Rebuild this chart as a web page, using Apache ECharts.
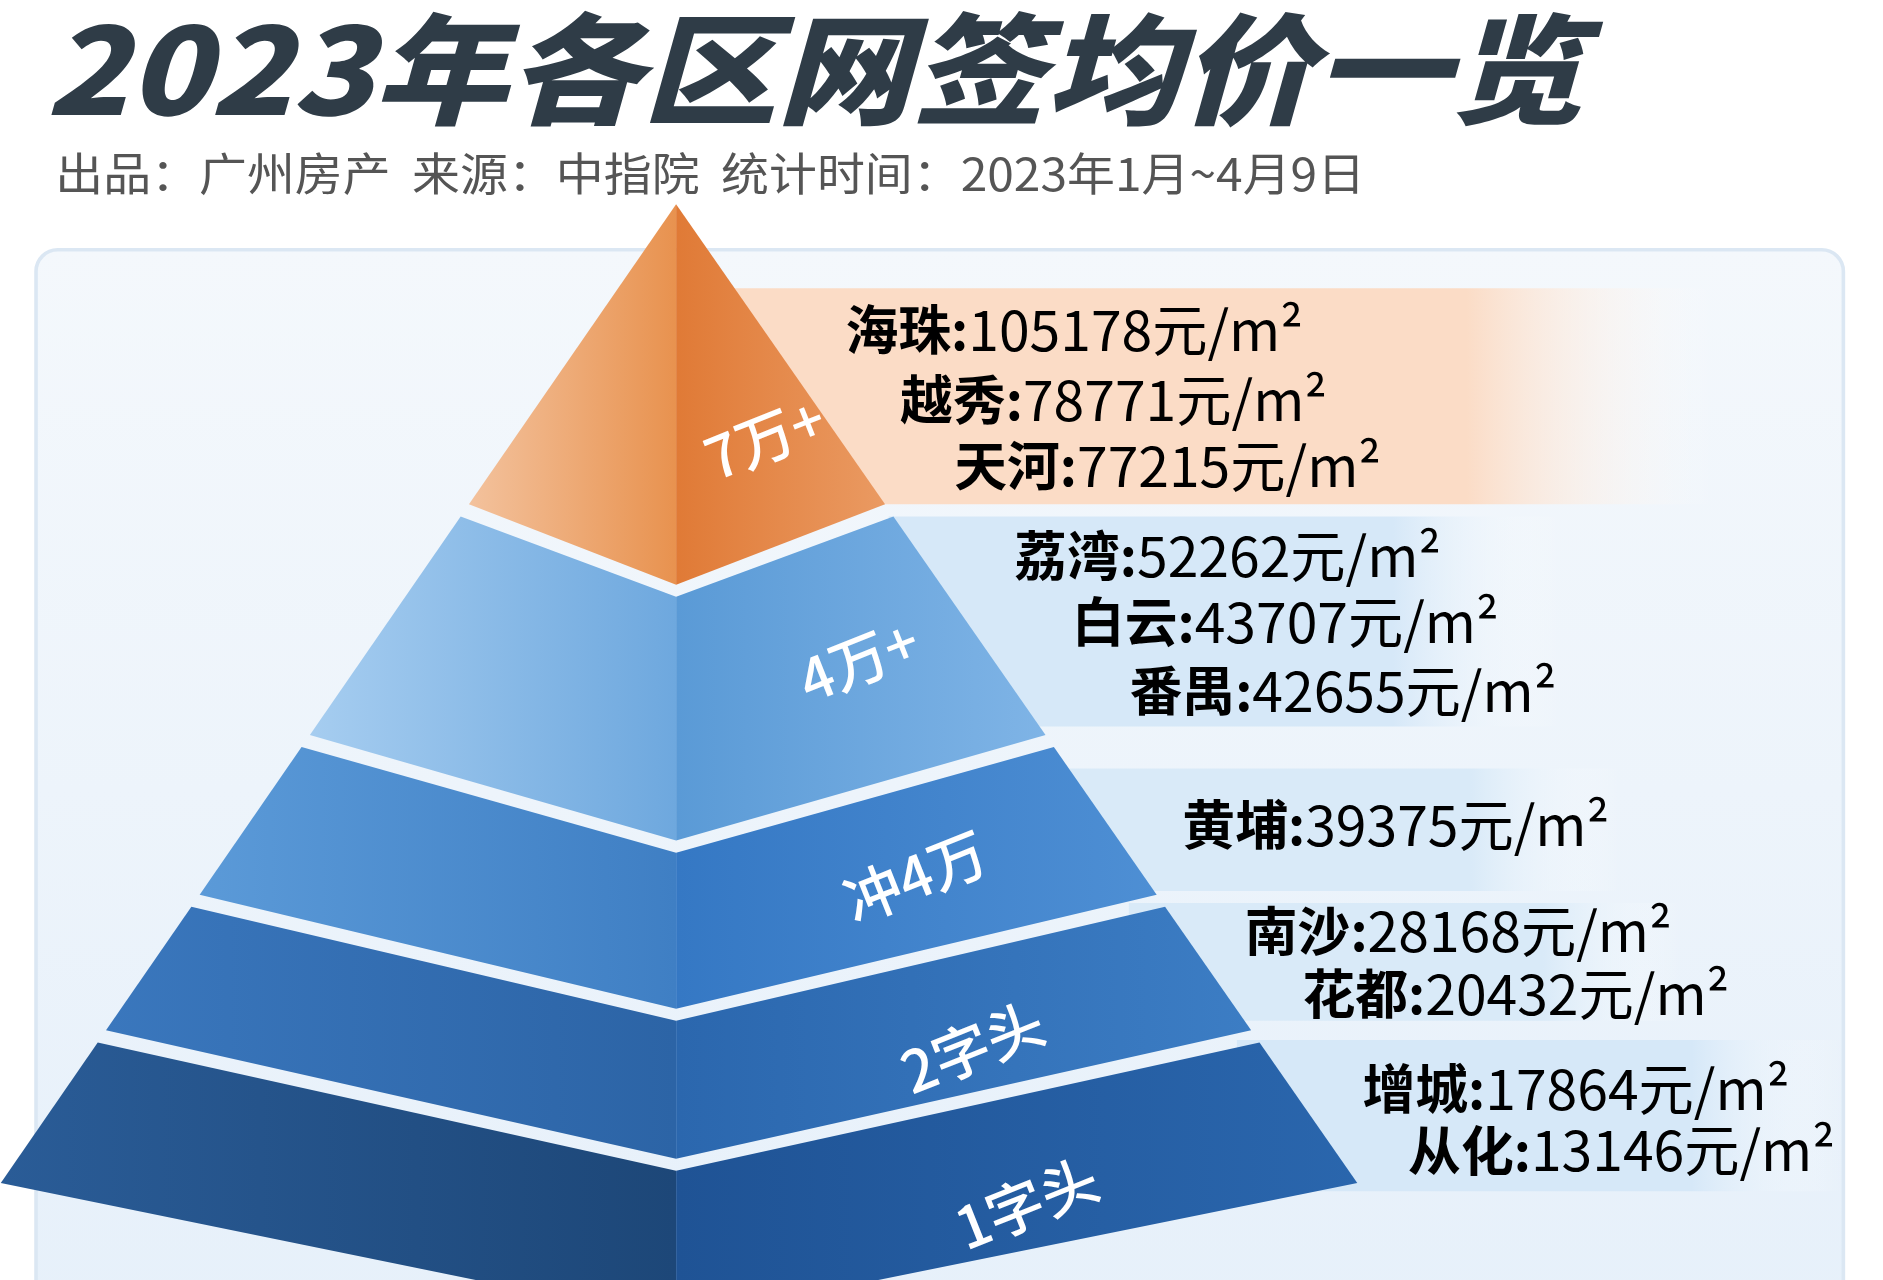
<!DOCTYPE html><html><head><meta charset="utf-8">
<script src="https://cdn.jsdelivr.net/npm/echarts@6/dist/echarts.min.js"></script>
<style>html,body{margin:0;padding:0;background:#fff}#c{width:1883px;height:1280px}</style></head><body><div id="c"></div>
<script>
const title = '2023年各区网签均价一览';
const subtitle = '出品：广州房产  来源：中指院  统计时间：2023年1月~4月9日';
const tierNames = ['7万+','4万+','冲4万','2字头','1字头'];
const districts = ['海珠','越秀','天河','荔湾','白云','番禺','黄埔','南沙','花都','增城','从化'];
const prices = [105178,78771,77215,52262,43707,42655,39375,28168,20432,17864,13146];
const tierOf = [0,0,0,1,1,1,2,3,3,4,4];

// layout (in 1568-wide design units)
const L = {
  apex:[563,170], kl:0.69, kr:0.696,
  cornerBottom:[420,612,745,858,985], centerBottom:[487,700,840,965,1100], gap:10,
  leftCol:[['#f3c29d','#e8924f'],['#a6cdf0','#6ea8de'],['#5b9ad8','#3f7fc4'],['#3a77bd','#2c64a6'],['#2a5c97','#1d4778']],
  rightCol:[['#e07a36','#ea9a62'],['#5a9ad6','#7fb4e6'],['#3578c4','#4e8fd4'],['#2b67ae','#3c7dc4'],['#1f5395','#2a66ad']],
  bands:[[595,240,1430,420,'#fbdcc6'],[740,430,1300,605,'#d6e8f8'],[850,640,1350,742,'#d9eaf8'],[940,752,1400,850,'#d9eaf8'],[1030,866,1535,992,'#d6e8f8']],
  lineY:[275,333,388,463,518,575,687,775,828,907,958],
  lineEnd:[1085,1105,1150,1200,1248,1296,1340,1392,1440,1490,1528],
  tierLbl:[[637,365],[715,550],[762,730],[810,872],[855,1002]]
};
const S = 1883/1568;
const chart = echarts.init(document.getElementById('c'));
function lx(y){return L.apex[0]-L.kl*(y-L.apex[1]);}
function rx(y){return L.apex[0]+L.kr*(y-L.apex[1]);}
function tierShapes(k){
  const cx=L.apex[0];
  let tc, tl, tr;
  if(k===0){tc=L.apex[1];tl=tr=L.apex;}
  else{const yc=L.cornerBottom[k-1]+L.gap; tc=L.centerBottom[k-1]+L.gap; tl=[lx(yc),yc]; tr=[rx(yc),yc];}
  const yb=L.cornerBottom[k], cb=L.centerBottom[k];
  const bl=[lx(yb),yb], br=[rx(yb),yb];
  const g=(c)=>({type:'linear',x:0,y:0,x2:1,y2:0,colorStops:[{offset:0,color:c[0]},{offset:1,color:c[1]}]});
  return [
    {type:'polygon',shape:{points:[tl,[cx,tc],[cx,cb],bl]},style:{fill:g(L.leftCol[k])}},
    {type:'polygon',shape:{points:[[cx,tc],tr,br,[cx,cb]]},style:{fill:g(L.rightCol[k])}}
  ];
}
const rich={n:{fontFamily:'Noto Sans CJK SC',fontWeight:'bold',fontSize:44,color:'#333'},v:{fontFamily:'Noto Sans CJK SC',fontSize:46,color:'#333'}};
chart.setOption({
  animation:false,
  graphic:[
    {type:'group',scaleX:S,scaleY:S,children:[
      {type:'rect',shape:{x:30,y:208,width:1505,height:900,r:18},style:{fill:{type:'linear',x:0,y:0,x2:0,y2:1,colorStops:[{offset:0,color:'#f4f8fc'},{offset:1,color:'#e6f0fa'}]},stroke:'#dbe7f3',lineWidth:3}},
      {type:'text',x:38,y:58,scaleX:1.12,style:{text:title,font:'italic 900 100px "Noto Sans CJK SC"',fill:'#2f3c47',verticalAlign:'middle'}},
      {type:'text',x:46,y:145,scaleX:1.05,style:{text:subtitle,font:'38px "Noto Sans CJK SC"',fill:'#555',verticalAlign:'middle'}}
    ]}
  ],
  series:[{
    type:'custom',coordinateSystem:'none',z:5,
    data:districts.map((d,i)=>[i,prices[i],tierOf[i]]),
    renderItem:function(params,api){
      const i=api.value(0), price=api.value(1), k=api.value(2);
      const ch=[];
      const first=tierOf.indexOf(k)===i;
      if(first){
        const b=L.bands[k];
        ch.push({type:'rect',shape:{x:b[0],y:b[1],width:b[2]-b[0],height:b[3]-b[1]},style:{fill:{type:'linear',x:0,y:0,x2:1,y2:0,colorStops:[{offset:0,color:b[4]},{offset:0.75,color:b[4]},{offset:1,color:'rgba(255,255,255,0)'}]}}});
        ch.push(...tierShapes(k));
        const t=L.tierLbl[k];
        ch.push({type:'text',x:t[0],y:t[1],rotation:0.38,style:{text:tierNames[k],font:'500 48px "Noto Sans CJK SC"',fill:'#fff',align:'center',verticalAlign:'middle'}});
      }
      ch.push({type:'text',x:L.lineEnd[i],y:L.lineY[i],z2:10,style:{text:'{n|'+districts[i]+':}{v|'+price+'元/m²}',rich:rich,align:'right',verticalAlign:'middle'}});
      return {type:'group',scaleX:S,scaleY:S,children:ch};
    }
  }]
});
</script></body></html>
